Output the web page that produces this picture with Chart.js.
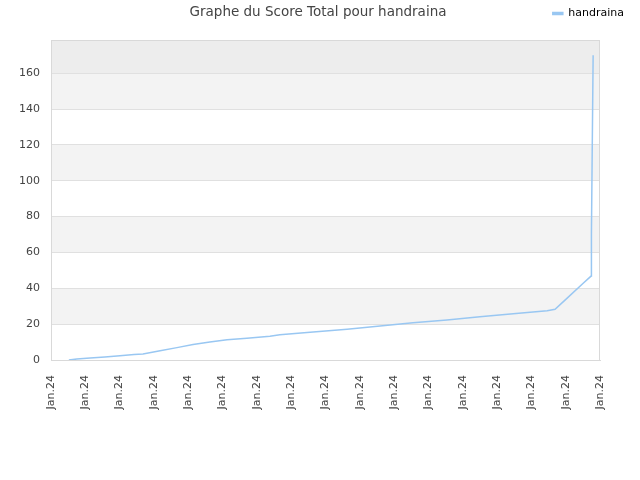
<!DOCTYPE html>
<html>
<head>
<meta charset="utf-8">
<script src="https://cdn.jsdelivr.net/npm/chart.js@4/dist/chart.umd.min.js"></script>
<style>
html,body{margin:0;padding:0;background:#fff;}
canvas{display:block;}
</style>
</head>
<body>
<canvas id="c" width="640" height="480"></canvas>
<script>
const chartTitle = "Graphe du Score Total pour handraina";
const seriesName = "handraina";
const tickLabels = ["Jan.24","Jan.24","Jan.24","Jan.24","Jan.24","Jan.24","Jan.24","Jan.24","Jan.24","Jan.24","Jan.24","Jan.24","Jan.24","Jan.24","Jan.24","Jan.24","Jan.24"];
const timePositions = [0.52,0.75,1.14,1.57,2.01,2.42,2.68,3.18,3.67,4.14,4.63,5.13,5.71,6.38,6.67,7.64,8.63,9.59,10.55,11.54,12.5,13.47,14.46,14.69,14.98,15.51,15.74,15.75,15.77,15.8];
const scores = [0,0.5,1.1,1.7,2.4,3.0,3.3,5.2,6.9,8.6,10.0,11.3,12.1,13.2,14.1,15.6,17.1,18.9,20.8,22.3,24.1,25.8,27.5,28.3,33.4,42.8,46.8,69.7,110.5,170];
const yMax = 178.5;

const bandPlugin = {
  id: 'bands',
  beforeDraw(chart) {
    const {ctx, chartArea, scales} = chart;
    const y = scales.y;
    ctx.save();
    const step = 20;
    let i = 0;
    for (let v = 0; v < y.max; v += step, i++) {
      const top = y.getPixelForValue(Math.min(v + step, y.max));
      const bot = y.getPixelForValue(v);
      let col;
      if (v + step > y.max) col = '#ededed';
      else col = (i % 2 === 1) ? '#f3f3f3' : '#ffffff';
      ctx.fillStyle = col;
      ctx.fillRect(chartArea.left, top, chartArea.right - chartArea.left, bot - top);
    }
    ctx.restore();
  },
  afterDatasetsDraw(chart) {
    const {ctx, chartArea} = chart;
    ctx.save();
    ctx.strokeStyle = '#d9d9d9';
    ctx.lineWidth = 1;
    ctx.strokeRect(chartArea.left + 0.5, chartArea.top + 0.5, chartArea.right - chartArea.left - 1, chartArea.bottom - chartArea.top);
    ctx.restore();
  },
  afterDraw(chart) {
    const {ctx} = chart;
    ctx.save();
    ctx.fillStyle = '#444444';
    ctx.font = '13.5px "DejaVu Sans"';
    ctx.textAlign = 'center';
    ctx.textBaseline = 'middle';
    ctx.fillText(chartTitle, 318, 12);
    ctx.restore();
  }
};

new Chart(document.getElementById('c'), {
  type: 'line',
  data: {
    datasets: [{
      label: seriesName,
      data: timePositions.map((x, i) => ({x: x, y: scores[i]})),
      borderColor: '#99c7f2',
      backgroundColor: '#99c7f2',
      borderWidth: 1.5,
      pointRadius: 0,
      tension: 0,
      fill: false
    }]
  },
  options: {
    responsive: false,
    devicePixelRatio: 1,
    animation: false,
    layout: {padding: {left: 0, right: 8, top: 0, bottom: 0}},
    plugins: {
      title: {display: false},
      tooltip: {enabled: false},
      legend: {
        display: true,
        position: 'top',
        align: 'end',
        labels: {
          boxWidth: 10,
          boxHeight: 2,
          color: '#000',
          font: {family: 'DejaVu Sans', size: 11},
          padding: 8
        }
      }
    },
    scales: {
      x: {
        type: 'linear',
        min: 0,
        max: 16,
        grid: {display: false, drawTicks: false},
        border: {display: true, color: '#d9d9d9'},
        afterFit: (s) => { s.height = 120; },
        ticks: {
          stepSize: 1,
          autoSkip: false,
          maxRotation: 90,
          minRotation: 90,
          padding: 15,
          color: '#444',
          font: {family: 'DejaVu Sans', size: 11},
          callback: (v) => tickLabels[Math.round(v)]
        }
      },
      xTop: {
        type: 'linear',
        position: 'top',
        display: true,
        grid: {display: false, drawTicks: false},
        border: {display: false},
        ticks: {display: false},
        afterFit: (s) => { s.height = 11; }
      },
      y: {
        min: 0,
        max: yMax,
        grid: {color: '#e0e0e0', drawTicks: false},
        border: {display: true, color: '#d9d9d9'},
        afterFit: (s) => { s.width = 51; },
        ticks: {
          stepSize: 20,
          padding: 11,
          color: '#444',
          font: {family: 'DejaVu Sans', size: 11},
          callback: (v) => (v % 20 === 0 ? v : '')
        }
      },
      yRight: {
        position: 'right',
        display: true,
        grid: {display: false, drawTicks: false},
        border: {display: false},
        ticks: {display: false},
        afterFit: (s) => { s.width = 32; }
      }
    }
  },
  plugins: [bandPlugin]
});
</script>
</body>
</html>
